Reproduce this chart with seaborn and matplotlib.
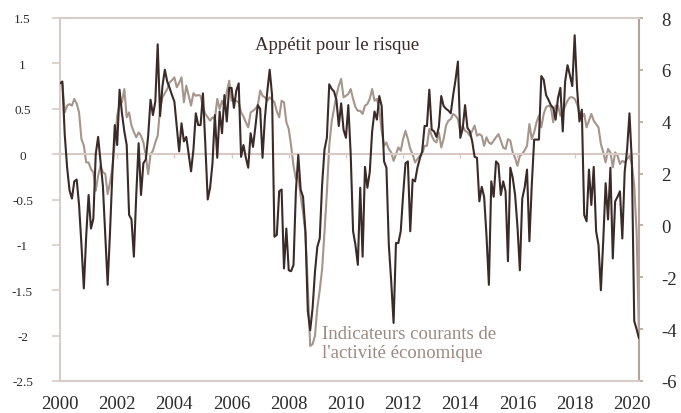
import numpy as np
import pandas as pd
import matplotlib
matplotlib.use("Agg")
import matplotlib.pyplot as plt
import seaborn as sns

# ---- data (monthly, Jan 2000 - Apr 2020) ----
start_year = 2000
risk_appetite = [
    0.78, 0.80, 0.21, -0.15, -0.40, -0.49, -0.30, -0.28, -0.56, -1.00, -1.48, -0.90,
    -0.45, -0.82, -0.71, 0.00, 0.19, -0.08, -0.35, -0.90, -1.44, -0.85, -0.20, 0.32,
    0.10, 0.71, 0.45, 0.25, 0.10, -0.67, -0.72, -1.13, -0.45, 0.12, -0.45, -0.10,
    -0.06, 0.20, 0.60, 0.43, 0.58, 1.21, 0.42, 0.75, 0.93, 0.80, 0.73, 0.65,
    0.58, 0.30, 0.03, 0.34, 0.14, 0.19, 0.00, -0.19, 0.05, 0.45, 0.32, 0.32,
    0.67, 0.10, -0.50, -0.37, -0.10, 0.43, -0.04, 0.47, 0.23, 0.65, 0.36, 0.73,
    0.73, 0.51, 0.70, 0.78, -0.03, 0.10, -0.04, -0.15, 0.23, 0.08, 0.30, 0.54,
    0.50, -0.04, 0.40, 0.69, 0.93, 0.65, -0.91, -0.89, -0.41, -0.39, -1.26, -0.82,
    -1.28, -1.29, -1.22, -0.41, -0.01, -0.39, -0.47, -0.85, -1.73, -1.94, -1.70, -1.30,
    -1.02, -0.93, -0.34, 0.05, 0.18, 0.77, 0.72, 0.69, 0.60, 0.31, 0.56, 0.27,
    0.18, 0.54, 0.00, -0.85, -1.00, -1.22, -0.37, -1.13, -0.14, -0.37, -0.20, 0.25,
    0.47, 0.38, 0.64, 0.53, -0.08, -0.15, -1.00, -1.40, -1.86, -0.98, -0.98, -0.85,
    -0.45, -0.10, -0.08, -0.85, -0.28, -0.30, -0.15, -0.05, 0.03, 0.31, 0.31, 0.71,
    0.27, 0.25, 0.19, 0.30, 0.64, 0.53, 0.50, 0.48, 0.45, 0.65, 0.82, 1.02,
    0.18, 0.28, 0.54, 0.29, 0.25, 0.14, -0.03, -0.04, -0.52, -0.36, -0.47, -0.90,
    -1.44, -0.30, -0.47, -0.08, -0.11, -0.45, -0.30, -0.41, -1.18, -0.15, -0.26, -0.45,
    -0.80, -1.28, -0.49, -0.37, -0.17, -0.96, -0.34, 0.16, 0.16, 0.16, 0.86, 0.82,
    0.65, 0.60, 0.54, 0.51, 0.38, 0.62, 0.73, 0.25, 0.80, 0.98, 0.87, 0.75,
    1.31, 0.73, 0.36, 0.49, -0.67, -0.74, -0.17, -0.56, -0.14, -0.85, -1.00, -1.50,
    -0.95, -0.32, -0.72, -0.15, -1.15, -0.52, -0.47, -0.41, -0.93, -0.19, 0.05, 0.45,
    -0.08, -1.84, -1.93, -2.03,
]
activity = [
    5.58, 5.45, 4.36, 4.62, 4.68, 4.62, 4.88, 4.70, 4.36, 3.33, 3.08, 2.43,
    2.43, 2.17, 2.05, 1.34, 1.92, 2.30, 2.05, 1.99, 1.21, 1.66, 2.24, 3.20,
    4.23, 4.68, 4.75, 5.26, 4.17, 4.36, 3.85, 3.60, 3.40, 3.59, 3.46, 3.20,
    2.69, 1.98, 2.75, 2.88, 3.20, 3.46, 4.49, 4.94, 5.10, 5.26, 5.52, 5.60,
    5.71, 5.33, 5.50, 5.71, 4.75, 5.39, 5.00, 4.62, 5.10, 5.00, 5.03, 5.00,
    4.56, 4.30, 4.17, 4.04, 4.17, 4.10, 4.88, 4.49, 4.81, 4.60, 5.14, 5.58,
    4.81, 4.88, 4.80, 4.75, 4.36, 4.20, 3.98, 3.78, 4.36, 4.42, 4.50, 4.62,
    5.20, 5.00, 4.94, 4.81, 4.94, 4.85, 4.75, 4.40, 4.17, 4.81, 4.75, 3.98,
    3.72, 3.07, 2.30, 1.79, 1.92, 1.14, 0.50, -0.30, -2.33, -4.65, -4.58, -4.26,
    -3.17, -2.50, -1.69, -0.27, 1.27, 3.07, 4.00, 4.50, 5.00, 5.39, 5.65, 4.94,
    5.00, 5.07, 5.26, 4.88, 4.56, 4.42, 4.42, 4.30, 4.62, 4.68, 4.88, 5.26,
    4.81, 4.88, 4.49, 3.65, 3.07, 3.20, 2.95, 2.82, 2.49, 2.75, 3.01, 2.88,
    3.33, 3.65, 3.33, 2.95, 2.75, 2.43, 2.56, 2.69, 2.75, 3.07, 3.07, 3.72,
    3.46, 3.27, 3.20, 3.59, 3.01, 3.33, 3.85, 4.04, 4.10, 4.30, 4.23, 4.10,
    3.59, 3.85, 3.65, 3.59, 3.46, 3.65, 3.85, 3.46, 3.52, 3.46, 3.07, 3.40,
    3.20, 3.14, 3.27, 3.40, 3.52, 3.27, 3.00, 2.95, 3.33, 3.27, 2.82, 2.60,
    2.30, 2.69, 2.75, 2.90, 3.07, 3.91, 3.33, 3.59, 3.98, 4.23, 3.78, 4.30,
    4.56, 4.62, 4.56, 3.98, 4.62, 4.62, 4.23, 4.36, 4.60, 4.81, 4.94, 4.94,
    4.88, 4.68, 4.36, 4.17, 4.30, 3.78, 4.04, 4.30, 4.04, 3.91, 3.78, 3.14,
    2.82, 2.43, 2.95, 2.82, 2.24, 2.82, 2.69, 2.37, 2.49, 2.43, 2.56, 2.69,
    2.37, 1.53, -0.27, -4.26,
]
left_ticks = [-2.5, -2.0, -1.5, -1.0, -0.5, 0.0, 0.5, 1.0, 1.5]
right_ticks = [-6, -4, -2, 0, 2, 4, 6, 8]
year_ticks = list(range(2000, 2021, 2))
label_risk = "Appétit pour le risque"
label_activity = "Indicateurs courants de\nl'activité économique"

DARK = "#3a2a28"
LIGHT = "#a5958b"
SPINE = "#d8ccc6"
RSPINE = "#b3a399"
ZERO = "#d8c9c2"
TXT = "#2b2b2b"

n = len(risk_appetite)
dates = start_year + np.arange(n) / 12.0
df = pd.DataFrame({"date": dates, "risk": risk_appetite, "activity": activity})

sns.set_theme(style="white")
plt.rcParams["font.family"] = ["Liberation Serif", "DejaVu Serif"]
plt.rcParams["axes.unicode_minus"] = False

fig = plt.figure(figsize=(6.81, 4.14), dpi=100)
ax = fig.add_axes([60 / 681, 1 - 382 / 414, 579 / 681, 363 / 414])
ax2 = ax.twinx()

sns.lineplot(data=df, x="date", y="activity", ax=ax2, color=LIGHT, lw=1.5)
sns.lineplot(data=df, x="date", y="risk", ax=ax, color=DARK, lw=1.5, zorder=3)
ax.set_zorder(ax2.get_zorder() + 1)
ax.patch.set_visible(False)

ax.set_xlim(2000, 2020.25)
ax.set_ylim(-2.5, 1.5)
ax2.set_ylim(-6, 8)
for a in (ax, ax2):
    a.set_xlabel("")
    a.set_ylabel("")

# spines
for s in ("left", "top", "bottom"):
    ax.spines[s].set_color(SPINE)
    ax.spines[s].set_linewidth(1.5)
    ax2.spines[s].set_visible(False)
ax.spines["right"].set_visible(False)
ax2.spines["right"].set_color(RSPINE)
ax2.spines["right"].set_linewidth(1.5)

# x axis
ax.set_xticks(year_ticks)
ax.set_xticklabels([str(y) for y in year_ticks])
ax.tick_params(axis="x", length=0, pad=10, labelsize=13.5, labelcolor=TXT)

# zero line with small upward year ticks
sec = ax.secondary_xaxis((0 - (-2.5)) / 4.0)
sec.set_xticks(year_ticks)
sec.set_xticklabels([])
sec.tick_params(axis="x", which="both", direction="in", length=3, width=1,
                color=ZERO, labelbottom=False, labeltop=False)
for sp in sec.spines.values():
    sp.set_color(ZERO)
    sp.set_linewidth(1.5)
sec.set_zorder(1)

# left y axis
ax.set_yticks(left_ticks)
ax.set_yticklabels([f"{v:g}" for v in left_ticks])
ax.tick_params(axis="y", direction="out", length=6, width=1.2, color=SPINE,
               labelsize=9.5, labelcolor=TXT, pad=21, left=True)
for lbl in ax.get_yticklabels():
    lbl.set_horizontalalignment("center")

# right y axis
ax2.set_yticks(right_ticks)
ax2.set_yticklabels([f"{v:g}" for v in right_ticks])
ax2.tick_params(axis="y", direction="out", length=3, width=1.2, color=RSPINE,
                labelsize=13.5, labelcolor=TXT, pad=13, right=True)

# annotations
ax.text(0.478, 0.928, label_risk, transform=ax.transAxes, ha="center",
        va="center", fontsize=13.5, color=DARK)
ax.text(0.452, 0.105, label_activity, transform=ax.transAxes, ha="left",
        va="center", fontsize=13.5, color="#9a8a80", linespacing=1.12)

fig.savefig("out.png", dpi=100)
